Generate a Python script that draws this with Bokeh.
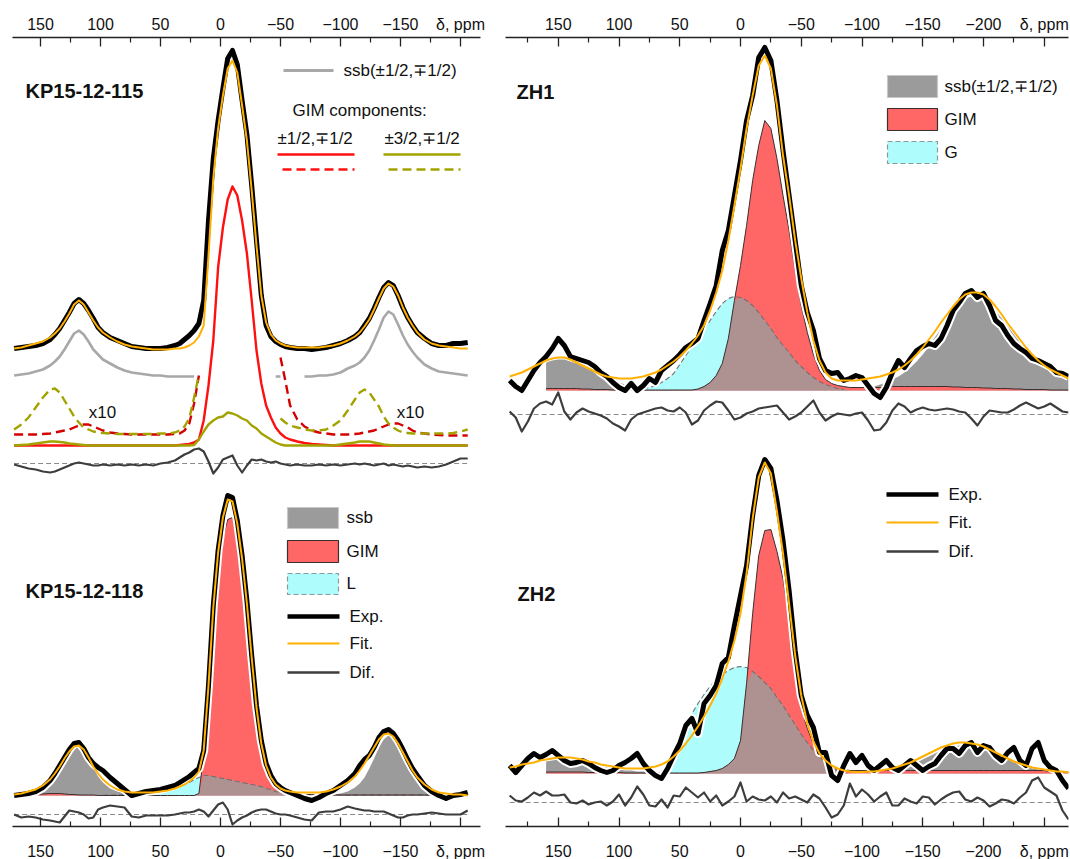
import numpy as np
from bokeh.plotting import figure
from bokeh.layouts import row
from bokeh.models import Range1d, LinearAxis, FixedTicker, Label
from bokeh.embed import file_html
from bokeh.resources import INLINE

nan = float("nan")

# ---------------- data : left column (KP15-12-115 / KP15-12-118) ----------------
ppm_left = [172, 166, 160, 154, 148, 142, 138, 134, 130, 126,
            122, 118, 114, 110, 106, 102, 98, 92, 86, 80,
            74, 68, 62, 56, 50, 44, 38, 34, 30, 26,
            22, 18, 14, 10, 6, 2, -2, -6, -10, -14,
            -18, -22, -26, -30, -34, -38, -42, -46, -50, -54,
            -58, -64, -70, -76, -82, -88, -94, -100, -106, -112,
            -116, -120, -124, -128, -132, -136, -140, -144, -148, -152,
            -156, -160, -164, -170, -176, -182, -188, -194, -200, -206]

kp115_exp = [2, 3, 4, 5, 7, 11, 16, 22, 30, 38,
             47, 51, 47, 40, 32, 23, 18, 13, 10, 7,
             4, 3, 2, 2, 2, 3, 5, 7, 11, 15,
             20, 27, 50, 130, 192, 230, 262, 292, 300, 286,
             250, 216, 165, 110, 55, 25, 14, 9, 6, 4,
             3, 2, 2, 1, 2, 3, 5, 7, 10, 14,
             18, 25, 32, 42, 53, 63, 68, 65, 55, 43,
             33, 25, 18, 12, 7, 5, 5, 7, 7, 8]
kp115_fit = [2, 3, 5, 7, 9, 13, 17, 22, 29, 37,
             46, 50, 46, 38, 30, 23, 18, 13, 9, 6,
             4, 3, 2, 1, 1, 1, 2, 2, 3, 5,
             8, 14, 25, 95, 172, 222, 255, 282, 290, 278,
             245, 210, 160, 105, 55, 28, 16, 10, 7, 5,
             4, 3, 3, 3, 3, 4, 5, 7, 10, 14,
             18, 24, 31, 41, 52, 62, 67, 64, 55, 43,
             33, 25, 18, 11, 7, 5, 4, 3, 2, 2]
kp115_ssb = [2, 3, 4, 6, 8, 12, 16, 21, 28, 36,
             44, 47, 43, 36, 28, 23, 18, 14, 10, 7,
             5, 4, 3, 2, 2, 1, 1, 1, 1, 1,
             1, nan, nan, nan, nan, nan, nan, nan, nan, nan,
             nan, nan, nan, nan, nan, nan, nan, 1, 1, nan,
             nan, nan, 1, 1, 2, 2, 3, 5, 9, 12,
             15, 20, 27, 37, 48, 60, 66, 63, 53, 42,
             33, 26, 20, 13, 9, 6, 5, 4, 3, 2]
kp115_gim12 = [0, 0, 0, 0, 0, 0, 0, 0, 0, 0,
               0, 0, 0, 0, 0, 0, 0, 0, 0, 0,
               0, 0, 0, 0, 0, 0, 0, 0.5, 1, 1.5,
               3, 6, 25, 60, 105, 178, 218, 246, 259, 250,
               225, 192, 145, 95, 62, 40, 28, 18, 12, 8,
               6, 4, 2.5, 1.5, 1, 0.5, 0, 0, 0, 0,
               0, 0, 0, 0, 0, 0, 0, 0, 0, 0,
               0, 0, 0, 0, 0, 0, 0, 0, 0, 0]
kp115_gim12_x10 = [1, 1, 1, 1, 1.5, 2, 3, 4, 5, 6,
                   8, 10, 11, 11, 9, 7, 5, 3, 2, 1.5,
                   1, 1, 1, 1, 1, 1, 1.5, 2, 5, 12,
                   32, 60, nan, nan, nan, nan, nan, nan, nan, nan,
                   nan, nan, nan, nan, nan, nan, nan, nan, 78, 55,
                   30, 16, 9, 5, 3, 2, 1, 1, 1, 1.5,
                   2, 3, 4, 5, 7, 9, 11, 12, 12, 10,
                   8, 5, 3, 2, 1, 0.5, 0, 0, 0, 0]
kp115_gim32 = [1, 1.5, 2, 3, 4, 5, 5, 4.5, 4, 3,
               2.5, 2, 1.5, 1, 1, 1, 1, 1, 1, 1,
               1, 1, 1, 1, 1, 1, 1, 1, 1, 1,
               1.5, 7, 15, 22, 26, 29, 30, 34, 33, 31,
               28, 26, 21, 18, 13, 10, 7, 4, 2, 1,
               1, 1, 1, 1, 1, 1, 1, 2, 3, 4,
               5, 5, 5, 4, 3, 2, 1.5, 1, 1, 1,
               1, 1, 1, 1, 1, 1, 1, 1, 1, 1]
kp115_gim32_x10 = [5, 10, 17, 27, 37, 45, 46, 42, 34, 26,
                   18, 12, 7, 5, 3, 2, 1.5, 1, 0.5, 0.5,
                   0.5, 0.5, 0.5, 0.5, 1, 1, 2, 4, 8, 16,
                   37, 60, nan, nan, nan, nan, nan, nan, nan, nan,
                   nan, nan, nan, nan, nan, nan, nan, nan, 16, 12,
                   9, 7, 5, 4, 4, 5, 9, 14, 24, 35,
                   42, 45, 42, 35, 28, 18, 11, 7, 4, 2,
                   1.5, 1, 1, 1, 1, 1, 1, 1.5, 3, 5]
kp115_dif = [-1, -3, -5, -6, -8, -9, -8, -6, -4, -2,
             0, 1, 0, -1, -2, -2, -1, -2, -1, -2,
             -1, -2, -1, -2, 0, 1, 3, 6, 9, 11,
             14, 15, 12, 2, -10, -4, 4, 6, 8, -2,
             -9, -2, 4, 3, 4, 2, 1, 2, 0, -1,
             -2, -1, -2, -2, -1, -2, -1, -2, -1, 0,
             -1, 0, -1, -2, -1, 0, -2, -1, -2, -3,
             -2, -3, -4, -3, -4, -3, -1, 2, 5, 5]

kp118_exp = [0, 1, 2, 4, 8, 15, 22, 30, 38, 46,
             52, 53, 47, 38, 32, 28, 25, 18, 12, 6,
             0, 2, 4, 5, 6, 8, 10, 13, 16, 19,
             23, 27, 45, 110, 190, 245, 280, 300, 298, 275,
             240, 195, 140, 90, 55, 32, 20, 12, 8, 5,
             3, 0, -3, -5, -2, 2, 5, 10, 15, 22,
             30, 36, 40, 48, 58, 64, 66, 62, 55, 46,
             36, 27, 20, 10, 4, 0, -3, 0, 1, 3]
kp118_fit = [1, 2, 4, 6, 10, 16, 22, 29, 37, 44,
             49, 50, 46, 38, 29, 22, 16, 10, 6, 4,
             3, 3, 3, 3, 4, 5, 7, 9, 11, 14,
             18, 24, 45, 110, 188, 243, 278, 296, 294, 272,
             237, 192, 138, 88, 52, 30, 18, 11, 7, 5,
             4, 3, 3, 3, 3, 4, 6, 9, 13, 19,
             25, 32, 40, 48, 56, 61, 62, 59, 52, 43,
             34, 25, 18, 11, 6, 3, 2, 1, 1, 0]
kp118_ssb = [0, 0.5, 1, 2, 4, 10, 16, 24, 33, 42,
             48, 50, 46, 38, 28, 19, 13, 7, 4, 2,
             1, 0.5, 0.5, 0, 0, 0, 0, 0, 0, 0,
             0, 0, 0, 0, 0, 0, 0, 0, 0, 0,
             0, 0, 0, 0, 0, 0, 0, 0, 0, 0,
             0, 0, 0, 0, 0, 0, 1, 2, 4, 8,
             12, 18, 27, 37, 48, 56, 60, 57, 50, 40,
             30, 21, 14, 7, 3, 1.5, 1, 0.5, 0, 0]
kp118_gim = [0, 0, 0.5, 1, 1.5, 2, 2, 2, 1.5, 1,
             1, 0.5, 0.5, 0.5, 0.5, 0, 0, 0, 0, 0,
             0, 0, 0, 0, 0, 0, 0, 0, 0, 0,
             0, 2, 40, 95, 170, 225, 258, 276, 278, 262,
             232, 190, 140, 92, 50, 25, 14, 7, 4, 2.5,
             2, 1.5, 1, 1, 0.5, 0.5, 0.5, 0.5, 0.5, 0.5,
             0.5, 0.5, 0.5, 0.5, 0.5, 0.5, 0.5, 0.5, 0.5, 0.5,
             0.5, 0.5, 0.5, 0.5, 0.5, 0.5, 0, 0, 0, 0]
kp118_l = [0, 0, 0, 0, 0, 0, 0, 0, 0, 0,
           0, 0, 0, 0, 0, 0, 0.3, 0.5, 0.5, 1,
           1, 1.5, 2, 3, 4, 5, 7, 9, 11, 13,
           16, 18, 20, 20, 19, 18, 17, 16, 15, 14,
           13, 12, 11, 10, 9, 7, 6, 4, 3, 2,
           1.5, 1, 0.5, 0.5, 0.5, 0.5, 0.5, 0.5, 0.5, 0.5,
           0.5, 0.5, 0.5, 0.5, 0.5, 0.5, 0.5, 0.5, 0.5, 0.5,
           0.5, 0.5, 0.5, 0.5, 0.3, 0, 0, 0, 0, 0]
kp118_dif = [0, -3, -2, -3, -5, -6, -7, -8, -2, 4,
             3, 2, 0, -4, -3, 5, 7, 9, 8, 7,
             -2, -3, -1, -1, -1, -1, 0, 1, 2, 2,
             3, 5, 3, -2, 4, 10, 12, 5, -10, -6,
             -3, -1, 2, 4, 5, 5, 3, 1, 0, 0,
             -1, -3, -5, -6, 2, 3, 3, 5, 8, 6,
             5, 4, 4, 3, 3, 3, 1, -1, -3, -3,
             -1, 0, 0, 1, 2, 1, 0, 0, 0, 4]

# ---------------- data : right column (ZH1 / ZH2) ----------------
ppm_right = list(range(190, -271, -5))      # spectra sampling, 93 points
ppm_comp = list(range(160, -271, -5))       # fitted components, 87 points

zh1_exp = [10, 4, 0, 10, 20, 28, 34, 42, 52, 45,
           34, 32, 30, 28, 24, 18, 14, 8, 3, 0,
           7, 0, 5, 12, 8, 20, 25, 30, 36, 43,
           47, 52, 70, 87, 105, 140, 160, 195, 230, 270,
           295, 333, 343, 330, 290, 240, 195, 150, 105, 78,
           60, 32, 20, 17, 18, 10, 12, 15, 13, 5,
           -3, -7, 3, 18, 30, 23, 32, 40, 44, 47,
           45, 52, 65, 80, 88, 97, 100, 93, 97, 85,
           70, 65, 55, 47, 42, 38, 32, 30, 27, 24,
           18, 17, 14]
zh1_fit = [14, 16, 18, 21, 24, 27, 30, 32, 33, 33,
           31, 28, 25, 22, 19, 16, 14, 13, 12, 12,
           12, 13, 14, 16, 18, 21, 25, 29, 34, 40,
           47, 55, 65, 80, 98, 120, 150, 185, 222, 262,
           295, 325, 335, 322, 285, 235, 195, 150, 112, 78,
           50, 30, 18, 12, 10, 10, 10, 10, 11, 12,
           13, 14, 16, 18, 21, 25, 30, 36, 43, 51,
           59, 68, 76, 84, 91, 96, 98, 98, 96, 91,
           84, 76, 67, 59, 51, 43, 36, 30, 25, 21,
           18, 15, 12]
zh1_ssb = [28, 30, 31, 31, 29, 27, 24, 21, 18, 15,
           12, 10, 8, 6, 5, 4, 3, 2, 2, 1,
           1, 0.5, 0, 0, 0, 0, 0, 0, 0, 0,
           0, 0, 0, 0, 0, 0, 0, 0, 0, 0,
           0, 0, 0, 0, 0, 0, 0, 0, 0, 0,
           1, 1.5, 2, 3, 4, 6, 8, 11, 14, 18,
           23, 29, 36, 44, 53, 62, 71, 80, 87, 92,
           94, 94, 92, 87, 80, 72, 64, 56, 48, 41,
           34, 28, 23, 19, 16, 13, 11]
zh1_gim = [2, 2, 2, 2, 2, 2, 1.5, 1.5, 1, 1,
           1, 0.5, 0.5, 0.5, 0.5, 0.5, 0.5, 0.5, 0.5, 0.5,
           0.5, 0.5, 0.5, 0.5, 0.5, 1.5, 4, 8, 15, 27,
           52, 90, 125, 165, 210, 245, 270, 262, 232, 195,
           160, 120, 85, 58, 36, 20, 11, 7, 5, 4,
           3, 3, 3, 3, 3, 3, 3.5, 4, 4, 4,
           4, 4, 4, 4, 4, 4, 4, 3.5, 3.5, 3,
           3, 3, 2.5, 2.5, 2, 2, 2, 1.5, 1.5, 1,
           1, 1, 1, 0.5, 0.5, 0.5, 0.5]
zh1_g = [0, 0, 0, 0, 0, 0, 0, 0, 0, 0,
         0, 0, 0, 0, 0, 0, 2, 3, 5, 8,
         12, 17, 26, 35, 44, 53, 61, 70, 79, 87,
         92, 94, 93, 90, 85, 78, 70, 62, 53, 45,
         38, 30, 24, 18, 13, 9, 6, 4, 2, 1,
         0, 0, 0, 0, 0, 0, 0, 0, 0, 0,
         0, 0, 0, 0, 0, 0, 0, 0, 0, 0,
         0, 0, 0, 0, 0, 0, 0, 0, 0, 0,
         0, 0, 0, 0, 0, 0, 0]
zh1_dif = [3, -3, -17, -7, 6, 11, 13, 10, 22, 3,
           -5, 2, 6, 3, 1, -1, -4, -9, -12, -16,
           -5, 0, 2, 4, 6, 7, 4, 3, 7, 2,
           -10, -6, 4, 9, 13, 12, 4, -5, -3, 1,
           3, 6, 7, 8, 9, 2, -5, -2, 2, 8,
           14, 2, -6, -2, 1, 0, -1, 1, 2, -6,
           -16, -15, -8, 4, 11, 8, 2, 5, 7, 5,
           4, 5, 6, 5, 3, 2, -4, -11, -2, 4,
           3, 2, 2, 5, 9, 12, 9, 6, 8, 11,
           7, 3, 2]

zh2_exp = [8, 1, 8, 15, 20, 16, 19, 23, 18, 13,
           10, 11, 13, 10, 6, 3, 1, 3, 8, 11,
           15, 20, 10, 3, -2, -5, 5, 18, 30, 48,
           55, 40, 70, 78, 88, 110, 116, 148, 178, 208,
           258, 298, 314, 305, 273, 233, 183, 123, 78, 58,
           46, 21, 21, -2, -7, 8, 20, 11, 18, 8,
           3, 8, 13, 6, 3, 8, 13, 8, 3, 7,
           10, 18, 25, 25, 20, 28, 31, 21, 28, 26,
           18, 13, 21, 26, 13, 8, 25, 31, 13, 6,
           3, -7, -15]
zh2_fit = [6, 7, 9, 10, 11, 13, 14, 15, 16, 16,
           16, 15, 14, 12, 11, 9, 8, 7, 6, 5,
           5, 5, 5, 6, 7, 9, 12, 17, 23, 30,
           38, 47, 57, 68, 80, 95, 112, 133, 160, 200,
           255, 296, 311, 300, 262, 220, 170, 118, 78, 50,
           32, 20, 13, 8, 5, 3, 2, 1.5, 1.5, 2,
           2, 3, 4, 5, 7, 9, 11, 14, 17, 20,
           23, 26, 28, 30, 31, 31, 30, 29, 27, 24,
           21, 18, 15, 12, 10, 8, 6, 5, 4, 3,
           2, 2, 1]
zh2_ssb = [12, 13, 14, 14, 14, 13, 12, 10, 9, 7,
           6, 5, 4, 3, 3, 2, 2, 1, 1, 0.5,
           0, 0, 0, 0, 0, 0, 0, 0, 0, 0,
           0, 0, 0, 0, 0, 0, 0, 0, 0, 0,
           0, 0, 0, 0, 0, 0, 0, 0, 0, 0,
           0, 0, 0, 0, 0.5, 1, 2, 3, 4, 6,
           8, 11, 14, 17, 20, 23, 25, 27, 28, 29,
           28, 27, 25, 23, 20, 17, 14, 11, 9, 7,
           5, 4, 3, 2, 2, 1, 1]
zh2_gim = [1.5, 1.5, 1.5, 1.5, 1.5, 1.5, 1.5, 1, 1, 1,
           1, 1, 1, 0.5, 0.5, 0.5, 0.5, 0.5, 0.5, 0.5,
           0.5, 0.5, 0.5, 0.5, 0.5, 0.5, 1, 2, 3, 5,
           9, 15, 33, 90, 160, 218, 243, 244, 222, 195,
           155, 100, 65, 45, 30, 20, 12, 7, 5, 4,
           3, 3, 3, 3, 3, 3, 3, 3, 3, 3,
           3, 3, 3, 3, 3, 3, 3, 3, 3, 3,
           3, 3, 3, 3, 3, 3, 3, 3, 3, 3,
           3, 3, 3, 2, 2, 1.5, 1.5]
zh2_l = [0, 0, 0, 0, 0, 0, 0, 0, 0, 0,
         0, 0, 0, 0, 0, 0, 0, 0, 0, 0,
         0, 18, 36, 48, 60, 70, 79, 87, 94, 99,
         103, 106, 107, 106, 102, 97, 91, 85, 76, 68,
         58, 49, 39, 31, 23, 17, 11, 6, 3, 1,
         0, 0, 0, 0, 0, 0, 0, 0, 0, 0,
         0, 0, 0, 0, 0, 0, 0, 0, 0, 0,
         0, 0, 0, 0, 0, 0, 0, 0, 0, 0,
         0, 0, 0, 0, 0, 0, 0]
zh2_dif = [7, 2, 1, 5, 10, 7, 11, 7, 7, 8,
           0, -1, 2, -2, 0, 1, -3, 1, 8, -3,
           5, 16, 8, -3, -4, 3, -5, 7, 6, 15,
           10, 5, 10, 1, 7, -3, 1, 6, 20, 1,
           6, 3, 2, 6, 0, 10, 4, 6, 3, 0,
           8, 4, -5, -15, -12, -3, 19, 6, 13, 8,
           1, 6, 10, -3, -3, 4, 1, -1, 6, 5,
           -2, 3, 7, 10, 11, 3, 1, 5, 2, -4,
           -1, 3, 2, -1, 5, 10, 22, 25, 15, 11,
           7, -8, -17]

# axis ticks
left_major = [150, 100, 50, 0, -50, -100, -150, -200]
left_minor = [125, 75, 25, -25, -75, -125, -175]
right_major = [150, 100, 50, 0, -50, -100, -150, -200, -250]
right_minor = [175, 125, 75, 25, -25, -75, -125, -175, -225]
axis_title = "δ, ppm"

# ---------------- checks ----------------
for name, grid, vals in [
        ("kp115_exp", ppm_left, kp115_exp), ("kp115_fit", ppm_left, kp115_fit),
        ("kp115_ssb", ppm_left, kp115_ssb), ("kp115_gim12", ppm_left, kp115_gim12),
        ("kp115_gim12_x10", ppm_left, kp115_gim12_x10), ("kp115_gim32", ppm_left, kp115_gim32),
        ("kp115_gim32_x10", ppm_left, kp115_gim32_x10), ("kp115_dif", ppm_left, kp115_dif),
        ("kp118_exp", ppm_left, kp118_exp), ("kp118_fit", ppm_left, kp118_fit),
        ("kp118_ssb", ppm_left, kp118_ssb), ("kp118_gim", ppm_left, kp118_gim),
        ("kp118_l", ppm_left, kp118_l), ("kp118_dif", ppm_left, kp118_dif),
        ("zh1_exp", ppm_right, zh1_exp), ("zh1_fit", ppm_right, zh1_fit),
        ("zh1_dif", ppm_right, zh1_dif), ("zh1_ssb", ppm_comp, zh1_ssb),
        ("zh1_gim", ppm_comp, zh1_gim), ("zh1_g", ppm_comp, zh1_g),
        ("zh2_exp", ppm_right, zh2_exp), ("zh2_fit", ppm_right, zh2_fit),
        ("zh2_dif", ppm_right, zh2_dif), ("zh2_ssb", ppm_comp, zh2_ssb),
        ("zh2_gim", ppm_comp, zh2_gim), ("zh2_l", ppm_comp, zh2_l)]:
    if len(vals) != len(grid):
        raise ValueError(f"{name}: {len(vals)} values for {len(grid)} grid points")

# ---------------- styling ----------------
FONT = "Liberation Sans"
TXT = "#111111"
C_EXP = "#000000"
C_FIT = "#ffb000"
C_DIF = "#3d3d3d"
C_ZERO = "#8a8a8a"
C_SSB_LINE = "#a8a8a8"
C_RED = "#ff1010"
C_RED_D = "#d40000"
C_OLV = "#a3a300"
C_GRAY = "#9b9b9b"
C_GIM = "#ff6666"
C_CYAN = "#aefcfc"
C_MIX = "#ae9191"
C_OUT = "#3a3030"

FRAME_H = 789
FRAME_BOTTOM_PX = 826


def vy(py):
    return FRAME_BOTTOM_PX - py


def lx(px):
    return (220 - px) / 1.2


def rx(px):
    return (740 - px) / 1.215


def overrides(majors, label_at):
    d = {}
    for t in majors:
        s = axis_title if t == label_at else (str(t) if t >= 0 else "\u2212" + str(-t))
        d[t] = s
        d[str(t)] = s
    return d


def make_fig(x_start, x_end, frame_w, b_left, b_right, majors, minors, label_at):
    p = figure(frame_width=frame_w, frame_height=FRAME_H,
               x_range=Range1d(x_start, x_end), y_range=Range1d(0, FRAME_H),
               x_axis_location="above", y_axis_location=None,
               output_backend="svg", toolbar_location=None,
               min_border_left=b_left, min_border_right=b_right,
               min_border_top=37, min_border_bottom=33)
    p.outline_line_color = None
    p.grid.visible = False
    p.background_fill_color = "white"
    p.border_fill_color = "white"
    bottom = LinearAxis()
    p.add_layout(bottom, "below")
    for ax, standoff in ((p.above[0], 5), (bottom, 16)):
        ax.ticker = FixedTicker(ticks=majors, minor_ticks=minors)
        ax.major_label_overrides = overrides(majors, label_at)
        ax.major_tick_in = 9
        ax.major_tick_out = 0
        ax.minor_tick_in = 5
        ax.minor_tick_out = 0
        ax.axis_line_width = 1.3
        ax.axis_line_color = "#222222"
        ax.major_tick_line_width = 1.3
        ax.minor_tick_line_width = 1.2
        ax.major_tick_line_color = "#222222"
        ax.minor_tick_line_color = "#222222"
        ax.major_label_text_font = FONT
        ax.major_label_text_font_size = "16px"
        ax.major_label_text_color = TXT
        ax.major_label_standoff = standoff
    return p


def text(p, conv, x, y, s, size="17px", bold=False, align="left"):
    p.add_layout(Label(x=conv(x), y=vy(y), text=s, text_font=FONT,
                       text_font_size=size, text_color=TXT,
                       text_font_style="bold" if bold else "normal",
                       text_align=align, text_baseline="middle"))


def leg_line(p, conv, x0, x1, y, **kw):
    p.line([conv(x0), conv(x1)], [vy(y), vy(y)], **kw)


def leg_box(p, conv, x0, x1, y0, y1, fill, line_color, dash="solid"):
    p.quad(left=conv(x0), right=conv(x1), top=vy(y0), bottom=vy(y1),
           fill_color=fill, line_color=line_color, line_width=1.2, line_dash=dash)


def spectrum(p, x, base, vals, halo=True, width=5):
    y = base + np.array(vals, dtype=float)
    if halo:
        p.line(x, y, line_color="white", line_width=width + 4, line_join="round")
    p.line(x, y, line_color=C_EXP, line_width=width, line_join="round")


def curve(p, x, base, vals, **kw):
    kw.setdefault("line_join", "round")
    p.line(x, base + np.array(vals, dtype=float), **kw)


def dif(p, x, base, vals):
    xa = np.array(x, dtype=float)
    p.line([xa[0], xa[-1]], [base, base], line_color=C_ZERO, line_width=1.2, line_dash="5 3")
    curve(p, xa, base, vals, line_color=C_DIF, line_width=2.2)


def components(p, x, base, ssb, gim, broad):
    xa = np.array(x, dtype=float)
    s = np.array(ssb, dtype=float)
    g = np.array(gim, dtype=float)
    b = np.array(broad, dtype=float)
    p.varea(x=xa, y1=base, y2=base + s, fill_color=C_GRAY)
    p.varea(x=xa, y1=base, y2=base + b, fill_color=C_CYAN)
    p.varea(x=xa, y1=base, y2=base + g, fill_color=C_GIM)
    p.varea(x=xa, y1=base, y2=base + np.minimum(g, b), fill_color=C_MIX)
    bl = np.where(b > 0, base + b, np.nan)
    p.line(xa, bl, line_color="#707070", line_width=1.1, line_dash="5 3")
    p.line(xa, base + g, line_color=C_OUT, line_width=1.0)


# ================= left column =================
pL = make_fig(lx(12), lx(480), 468, 12, 17, left_major, left_minor, -200)
xL = np.array(ppm_left, dtype=float)

# --- KP15-12-115 ---
A_EXP, A_SSB, A_R, A_RD, A_O, A_OD, A_DIF = vy(350), vy(377), vy(445), vy(435), vy(446), vy(434), vy(463)
dif(pL, xL, A_DIF, kp115_dif)
curve(pL, xL, A_R, kp115_gim12, line_color=C_RED, line_width=2.4)
curve(pL, xL, A_O, kp115_gim32, line_color=C_OLV, line_width=2.4)
curve(pL, xL, A_RD, kp115_gim12_x10, line_color=C_RED_D, line_width=2.4, line_dash="9 5")
curve(pL, xL, A_OD, kp115_gim32_x10, line_color=C_OLV, line_width=2.4, line_dash="9 5")
curve(pL, xL, A_SSB, kp115_ssb, line_color=C_SSB_LINE, line_width=2.6)
spectrum(pL, xL, A_EXP, kp115_exp, halo=False)
curve(pL, xL, A_EXP, kp115_fit, line_color=C_FIT, line_width=2)

text(pL, lx, 25, 90, "KP15-12-115", size="20px", bold=True)
text(pL, lx, 102, 412, "x10", align="center")
text(pL, lx, 410, 412, "x10", align="center")
leg_line(pL, lx, 283, 333, 70, line_color=C_SSB_LINE, line_width=3)
text(pL, lx, 343, 70, "ssb(±1/2,∓1/2)")
text(pL, lx, 292, 110, "GIM components:")
text(pL, lx, 277, 138, "±1/2,∓1/2")
text(pL, lx, 384, 138, "±3/2,∓1/2")
leg_line(pL, lx, 277, 354, 154, line_color=C_RED, line_width=2.6)
leg_line(pL, lx, 282, 354, 169, line_color=C_RED, line_width=2.6, line_dash="9 5")
leg_line(pL, lx, 383, 460, 154, line_color=C_OLV, line_width=2.6)
leg_line(pL, lx, 388, 460, 169, line_color=C_OLV, line_width=2.6, line_dash="9 5")

# --- KP15-12-118 ---
B_BASE, B_DIF = vy(795), vy(814)
components(pL, xL, B_BASE, kp118_ssb, kp118_gim, kp118_l)
dif(pL, xL, B_DIF, kp118_dif)
spectrum(pL, xL, B_BASE, kp118_exp)
curve(pL, xL, B_BASE, kp118_fit, line_color=C_FIT, line_width=2)

text(pL, lx, 25, 590, "KP15-12-118", size="20px", bold=True)
leg_box(pL, lx, 287, 338, 507, 528, C_GRAY, "#c8c8c8")
text(pL, lx, 346, 517, "ssb")
leg_box(pL, lx, 287, 338, 540, 562, C_GIM, C_OUT)
text(pL, lx, 346, 551, "GIM")
leg_box(pL, lx, 287, 338, 573, 594, C_CYAN, "#8a9a9a", dash="5 3")
text(pL, lx, 346, 583, "L")
leg_line(pL, lx, 287, 339, 616, line_color=C_EXP, line_width=4.5)
text(pL, lx, 349, 616, "Exp.")
leg_line(pL, lx, 287, 339, 643, line_color=C_FIT, line_width=2)
text(pL, lx, 349, 643, "Fit.")
leg_line(pL, lx, 287, 339, 672, line_color=C_DIF, line_width=2.6)
text(pL, lx, 349, 672, "Dif.")

# ================= right column =================
pR = make_fig(rx(505), rx(1068), 563, 8, 2, right_major, right_minor, -250)
xR = np.array(ppm_right, dtype=float)
xC = np.array(ppm_comp, dtype=float)

# --- ZH1 ---
Z1_BASE, Z1_DIF = vy(390), vy(414)
components(pR, xC, Z1_BASE, zh1_ssb, zh1_gim, zh1_g)
dif(pR, xR, Z1_DIF, zh1_dif)
spectrum(pR, xR, Z1_BASE, zh1_exp)
curve(pR, xR, Z1_BASE, zh1_fit, line_color=C_FIT, line_width=2)

text(pR, rx, 516, 91, "ZH1", size="20px", bold=True)
leg_box(pR, rx, 887, 937, 75, 97, C_GRAY, "#c8c8c8")
text(pR, rx, 944, 86, "ssb(±1/2,∓1/2)")
leg_box(pR, rx, 887, 937, 108, 130, C_GIM, C_OUT)
text(pR, rx, 944, 119, "GIM")
leg_box(pR, rx, 887, 937, 141, 163, C_CYAN, "#8a9a9a", dash="5 3")
text(pR, rx, 944, 152, "G")

# --- ZH2 ---
Z2_BASE, Z2_DIF = vy(773), vy(802)
components(pR, xC, Z2_BASE, zh2_ssb, zh2_gim, zh2_l)
dif(pR, xR, Z2_DIF, zh2_dif)
spectrum(pR, xR, Z2_BASE, zh2_exp)
curve(pR, xR, Z2_BASE, zh2_fit, line_color=C_FIT, line_width=2)

text(pR, rx, 517, 593, "ZH2", size="20px", bold=True)
leg_line(pR, rx, 886, 938, 494, line_color=C_EXP, line_width=4.5)
text(pR, rx, 948, 494, "Exp.")
leg_line(pR, rx, 886, 938, 522, line_color=C_FIT, line_width=2)
text(pR, rx, 948, 522, "Fit.")
leg_line(pR, rx, 886, 938, 551, line_color=C_DIF, line_width=2.6)
text(pR, rx, 948, 551, "Dif.")

layout = row(pL, pR)
open("out.html", "w").write(file_html(layout, INLINE))
